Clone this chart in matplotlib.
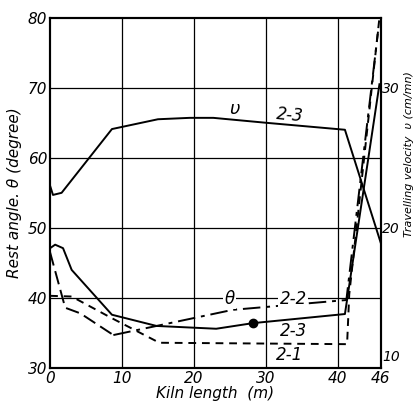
import matplotlib
matplotlib.use("Agg")
import matplotlib.pyplot as plt
from matplotlib.transforms import ScaledTranslation

# Travelling velocity v (2-3), right axis units (cm/mn)
v_x = [0, 0.4, 1.6, 8.6, 15, 19.4, 22.7, 30, 41.0, 46]
v_y = [23.0, 22.35, 22.5, 27.05, 27.75, 27.85, 27.85, 27.5, 27.0, 18.9]

# Rest angle theta, 2-3 (solid)
t23_x = [0, 0.7, 1.8, 3.0, 8.6, 14.8, 23.1, 28.2, 41.0, 45.8]
t23_y = [47.1, 47.6, 47.1, 44.0, 37.6, 36.0, 35.6, 36.4, 37.7, 70.5]

# Rest angle theta, 2-2 (long dash then dash-dot)
t22a_x = [0, 2.1, 4.2, 8.8]
t22a_y = [46.5, 38.6, 37.8, 34.7]
t22b_x = [8.8, 14.8, 25.4, 41.2, 45.6]
t22b_y = [34.7, 36.0, 38.3, 39.7, 78.0]

# Rest angle theta, 2-1 (short dash)
t21_x = [0, 3.0, 8.6, 15.2, 41.3, 41.6, 45.8]
t21_y = [40.3, 40.2, 37.1, 33.6, 33.4, 40.5, 80.0]

dot_x = [28.2]
dot_y = [36.4]

x_ticks = [0, 10, 20, 30, 40, 46]
y_ticks = [30, 40, 50, 60, 70, 80]
v_ticks = [10, 20, 30]

fig = plt.figure(figsize=(4.14, 4.05), dpi=100)
ax = fig.add_axes([0.121, 0.0914, 0.799, 0.865])
ax.set_xlim(0, 46)
ax.set_ylim(30, 80)

for gx in [10, 20, 30, 40]:
    ax.axvline(gx, color="black", lw=0.9, zorder=1)
for gy in [40, 50, 60, 70]:
    ax.axhline(gy, color="black", lw=0.9, zorder=1)

for s in ax.spines.values():
    s.set_linewidth(1.5)

lw = 1.4
ax.plot(t23_x, t23_y, color="black", lw=lw, zorder=3)
ax.plot(t22a_x, t22a_y, color="black", lw=lw, ls=(0, (7, 3)), zorder=3)
ax.plot(t22b_x, t22b_y, color="black", lw=lw, ls=(0, (9, 3, 2, 3)), zorder=3)
ax.plot(t21_x, t21_y, color="black", lw=lw, ls=(0, (4, 3)), zorder=3)
ax.plot(dot_x, dot_y, "o", color="black", ms=6, zorder=4)

ax2 = ax.twinx()
ax2.set_ylim(10, 35)
ax2.plot(v_x, v_y, color="black", lw=lw, zorder=3)
ax2.set_yticks(v_ticks)
ax2.set_yticklabels([str(t) for t in v_ticks], fontsize=10, style="italic")
ax2.tick_params(axis="y", length=0, pad=1)
for s in ax2.spines.values():
    s.set_linewidth(1.5)
# raise the bottom right tick label like the reference
lab10 = ax2.get_yticklabels()[0]
lab10.set_transform(lab10.get_transform() + ScaledTranslation(0, 9 / 72, fig.dpi_scale_trans))

ax.set_xticks(x_ticks)
ax.set_xticklabels([str(t) for t in x_ticks], fontsize=11, style="italic")
ax.set_yticks(y_ticks)
ax.set_yticklabels([str(t) for t in y_ticks], fontsize=11, style="italic")
ax.tick_params(length=0, pad=2)

ax.set_xlabel("Kiln length  (m)", fontsize=11, style="italic", labelpad=0)
ax.set_ylabel("Rest angle. θ (degree)", fontsize=11, style="italic", labelpad=4)
fig.text(0.988, 0.62, "Travelling velocity  υ (cm/mn)", fontsize=8, style="italic",
         rotation=90, ha="center", va="center")

bb = dict(facecolor="white", edgecolor="none", pad=1)
ax.text(25.6, 67.0, "υ", fontsize=13, style="italic", ha="center", va="center", zorder=5)
ax.text(33.3, 66.1, "2-3", fontsize=12, style="italic", ha="center", va="center", rotation=-5, zorder=5)
ax.text(25.0, 39.9, "θ", fontsize=12, style="italic", ha="center", va="center", bbox=bb, zorder=5)
ax.text(33.8, 39.9, "2-2", fontsize=12, style="italic", ha="center", va="center", bbox=bb, zorder=5)
ax.text(33.8, 35.3, "2-3", fontsize=12, style="italic", ha="center", va="center", zorder=5)
ax.text(33.3, 31.9, "2-1", fontsize=12, style="italic", ha="center", va="center", zorder=5)

fig.savefig("out.png", dpi=100)
